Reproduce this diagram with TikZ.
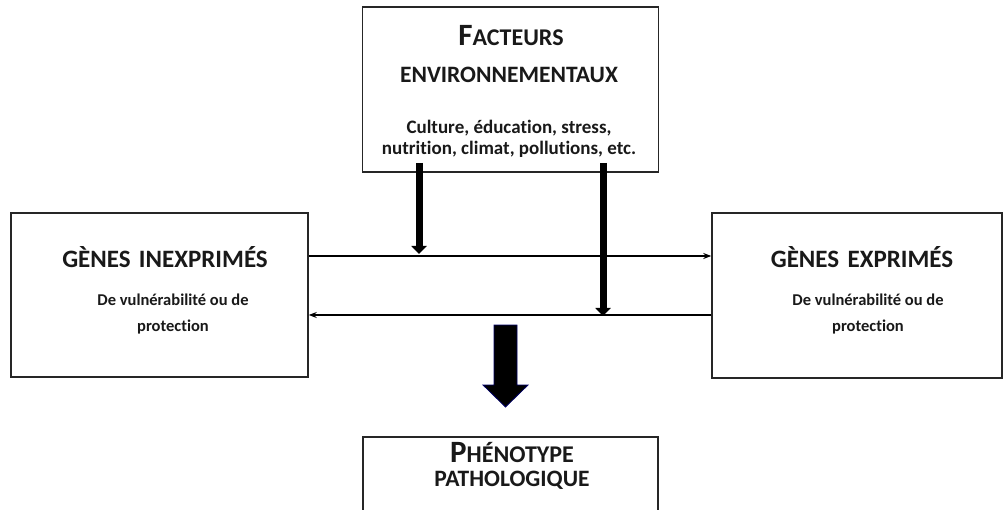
\documentclass[tikz,border=0pt]{standalone}
\usepackage{fontspec}
\setmainfont{Carlito}[Ligatures={NoCommon},RawFeature={-liga}]
\usetikzlibrary{arrows.meta}
\newcommand{\fs}[1]{\fontsize{#1}{#1}\selectfont}
\tikzset{
  box/.style={draw=black!85, line width=1.5pt, fill=white, inner sep=0pt},
  txt/.style={font=\bfseries, inner sep=0pt, text=black!90, align=center},
  thin/.style={line width=1.4pt, -{Stealth[length=8pt,width=6pt]}},
  thick/.style={line width=7pt, -{Triangle[length=8pt,width=15pt]}},
}
\begin{document}
\begin{tikzpicture}[x=1pt,y=-1pt]
\useasboundingbox (0,0) rectangle (1003,510);
\clip (0,0) rectangle (1003,510);
\fill[white] (0,0) rectangle (1003,510);
% boxes
\node[box, minimum width=296pt, minimum height=165pt] (fact) at (510.5,89.5) {};
\node[box, minimum width=297pt, minimum height=164pt] (inex) at (159.5,295) {};
\node[box, minimum width=290pt, minimum height=165pt] (expr) at (857,295.5) {};
\node[box, minimum width=295pt, minimum height=120pt] (pheno) at (510.5,497) {};
% texts
\node[txt] (t1) at (511,36) {\fs{31}F\fs{24}ACTEURS};
\node[txt] (t2) at (509,75) {\fs{23.5}ENVIRONNEMENTAUX};
\node[txt] (t3) at (509,128) {\fs{19}Culture, éducation, stress,};
\node[txt] (t4) at (509,149) {\fs{19}nutrition, climat, pollutions, etc.};
\node[txt] (t5) at (165,257) {\fs{25}GÈNES\,\,INEXPRIMÉS};
\node[txt] (t6) at (173,300) {\fs{16.5}De vulnérabilité ou de};
\node[txt] (t7) at (173,327) {\fs{16.5}protection};
\node[txt] (t8) at (862,257) {\fs{25}GÈNES\,\,EXPRIMÉS};
\node[txt] (t9) at (868,300) {\fs{16.5}De vulnérabilité ou de};
\node[txt] (t10) at (868,327) {\fs{16.5}protection};
\node[txt] (t11) at (512,453) {\fs{31}P\fs{24}HÉNOTYPE};
\node[txt] (t12) at (512,480) {\fs{23.5}PATHOLOGIQUE};
% horizontal connectors
\coordinate (h1s) at (inex.east |- 0,256);
\coordinate (h1e) at (expr.west |- 0,256);
\coordinate (h2s) at (expr.west |- 0,315);
\coordinate (h2e) at (inex.east |- 0,315);
\draw[thin] (h1s) -- (h1e);
\draw[thin] (h2s) -- (h2e);
% vertical thick arrows
\coordinate (v1s) at (419,163);
\coordinate (v1e) at (419,254);
\coordinate (v2s) at (603,163);
\coordinate (v2e) at (603,316);
\draw[thick] (v1s) -- (v1e);
\draw[thick] (v2s) -- (v2e);
% big arrow
\draw[fill=black, draw=blue!40!black, line width=0.8pt]
  (494,325) -- (517,325) -- (517,385) -- (528,385) -- (505.5,407)
  -- (483,385) -- (494,385) -- cycle;
\end{tikzpicture}
\end{document}
